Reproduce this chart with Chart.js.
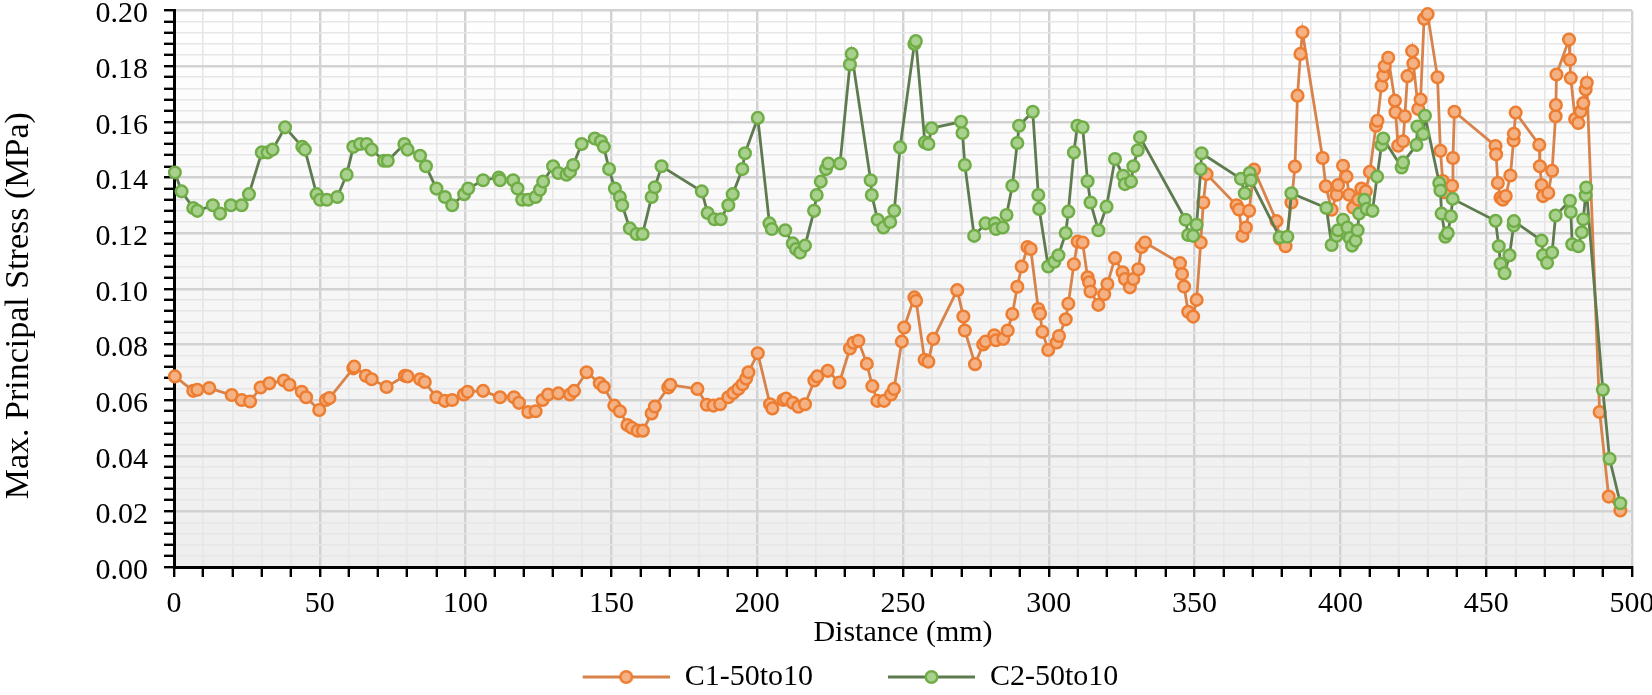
<!DOCTYPE html>
<html>
<head>
<meta charset="utf-8">
<title>Max. Principal Stress</title>
<script src="https://cdn.jsdelivr.net/npm/chart.js@4.4.1/dist/chart.umd.min.js"></script>
<style>
  html, body { margin: 0; padding: 0; background: #fff; }
  #wrap { width: 1652px; height: 695px; position: relative; }
</style>
</head>
<body>
<div id="wrap"><canvas id="stressChart"></canvas></div>
<script>
// ---- data ----
const seriesNames = ['C1-50to10', 'C2-50to10'];

const c1Distance = [
  0.3, 6.6, 8.0, 12.1, 19.8, 23.2, 26.1, 29.7, 32.7, 37.7,
  39.6, 43.8, 45.3, 49.8, 52.1, 53.3, 61.5, 61.8, 65.8, 67.8,
  72.9, 79.2, 80.1, 84.4, 86.0, 90.0, 92.9, 95.4, 99.4, 100.7,
  106.0, 111.8, 116.6, 118.3, 121.5, 124.0, 126.4, 128.3, 131.8, 135.8,
  137.2, 141.5, 146.0, 147.4, 151.0, 152.9, 155.5, 157.0, 159.0, 160.8,
  163.8, 164.9, 169.5, 170.2, 179.5, 182.7, 185.0, 187.3, 190.1, 191.8,
  193.5, 195.0, 196.2, 197.0, 200.2, 204.4, 205.2, 209.0, 209.9, 212.2,
  214.1, 216.4, 219.6, 220.6, 224.2, 228.2, 231.8, 233.0, 234.7, 237.6,
  239.5, 241.2, 243.5, 245.9, 246.9, 249.6, 250.4, 253.9, 254.5, 257.4,
  258.7, 260.4, 268.6, 270.7, 271.2, 274.7, 277.5, 278.3, 281.3, 281.9,
  284.4, 285.9, 287.5, 289.2, 290.7, 292.7, 293.8, 296.4, 297.0, 297.8,
  299.8, 302.7, 303.5, 305.8, 306.7, 308.6, 309.9, 311.6, 313.3, 313.8,
  314.3, 317.0, 319.0, 320.1, 322.7, 325.3, 326.1, 327.8, 329.0, 330.7,
  331.8, 333.0, 345.0, 345.7, 346.4, 347.8, 349.5, 350.7, 352.1, 353.0,
  354.1, 364.4, 365.2, 366.4, 367.6, 368.7, 370.4, 378.1, 379.2, 381.2,
  383.2, 384.4, 385.3, 386.3, 387.0, 393.9, 395.0, 397.0, 398.7, 399.2,
  400.9, 402.1, 403.0, 404.4, 406.1, 407.2, 408.7, 410.1, 412.2, 412.7,
  414.1, 414.7, 415.2, 416.4, 418.7, 418.9, 419.8, 421.5, 422.1, 423.0,
  424.6, 425.0, 426.7, 427.5, 428.7, 429.9, 433.3, 434.3, 435.1, 435.7,
  438.3, 438.6, 439.1, 453.2, 453.4, 454.0, 454.9, 455.7, 456.7, 458.3,
  459.4, 459.5, 460.1, 468.2, 468.4, 469.0, 469.5, 471.3, 472.6, 473.8,
  473.9, 474.1, 478.4, 478.7, 479.0, 480.5, 481.6, 482.4, 483.3, 484.1,
  484.5, 488.9, 492.0, 496.0
];
const c1Stress = [
  0.0685, 0.0633, 0.0637, 0.0643, 0.0618, 0.0600, 0.0595, 0.0645, 0.0660, 0.0670,
  0.0655, 0.0630, 0.0610, 0.0564, 0.0600, 0.0607, 0.0714, 0.0720, 0.0687, 0.0675,
  0.0647, 0.0687, 0.0685, 0.0675, 0.0665, 0.0610, 0.0597, 0.0600, 0.0620, 0.0630,
  0.0633, 0.0610, 0.0610, 0.0590, 0.0557, 0.0560, 0.0600, 0.0620, 0.0624, 0.0620,
  0.0633, 0.0700, 0.0660, 0.0647, 0.0580, 0.0560, 0.0510, 0.0500, 0.0490, 0.0490,
  0.0552, 0.0577, 0.0645, 0.0655, 0.0640, 0.0583, 0.0580, 0.0585, 0.0610, 0.0625,
  0.0640, 0.0657, 0.0677, 0.0700, 0.0768, 0.0585, 0.0570, 0.0600, 0.0605, 0.0590,
  0.0576, 0.0585, 0.0670, 0.0685, 0.0705, 0.0663, 0.0785, 0.0806, 0.0813, 0.0730,
  0.0650, 0.0597, 0.0597, 0.0620, 0.0640, 0.0810, 0.0861, 0.0969, 0.0957, 0.0745,
  0.0738, 0.0820, 0.0995, 0.0900, 0.0850, 0.0729, 0.0800, 0.0810, 0.0833, 0.0815,
  0.0820, 0.0850, 0.0909, 0.1007, 0.1080, 0.1150, 0.1143, 0.0927, 0.0910, 0.0845,
  0.0780, 0.0807, 0.0830, 0.0890, 0.0946, 0.1088, 0.1170, 0.1166, 0.1041, 0.1023,
  0.0990, 0.0942, 0.0980, 0.1017, 0.1110, 0.1059, 0.1035, 0.1005, 0.1035, 0.1070,
  0.1150, 0.1166, 0.1092, 0.1053, 0.1008, 0.0917, 0.0900, 0.0960, 0.1166, 0.1310,
  0.1412, 0.1300, 0.1285, 0.1190, 0.1220, 0.1280, 0.1428, 0.1243, 0.1180, 0.1153,
  0.1310, 0.1439, 0.1694, 0.1844, 0.1922, 0.1470, 0.1368, 0.1284, 0.1338, 0.1373,
  0.1442, 0.1403, 0.1338, 0.1292, 0.1320, 0.1360, 0.1350, 0.1420, 0.1586, 0.1604,
  0.1730, 0.1766, 0.1800, 0.1830, 0.1676, 0.1634, 0.1514, 0.1530, 0.1620, 0.1764,
  0.1854, 0.1810, 0.1646, 0.1680, 0.1970, 0.1987, 0.1760, 0.1496, 0.1387, 0.1347,
  0.1370, 0.1470, 0.1636, 0.1513, 0.1483, 0.1380, 0.1327, 0.1320, 0.1333, 0.1407,
  0.1533, 0.1557, 0.1633, 0.1517, 0.1440, 0.1373, 0.1333, 0.1344, 0.1424, 0.1620,
  0.1660, 0.1770, 0.1896, 0.1823, 0.1757, 0.1610, 0.1596, 0.1637, 0.1667, 0.1716,
  0.1740, 0.0557, 0.0253, 0.0203
];

const c2Distance = [
  0.3, 2.6, 6.6, 8.0, 13.3, 15.8, 19.5, 23.2, 25.7, 30.1,
  32.1, 33.8, 38.1, 44.0, 44.9, 48.9, 50.1, 52.4, 56.0, 59.2,
  61.5, 63.8, 66.1, 67.8, 72.0, 73.3, 79.0, 80.1, 84.4, 86.4,
  90.0, 92.9, 95.4, 99.5, 100.9, 106.0, 111.4, 111.8, 116.3, 117.8,
  119.4, 121.5, 124.0, 125.5, 126.6, 130.0, 131.8, 134.6, 135.8, 136.9,
  139.8, 144.3, 146.4, 147.4, 149.2, 151.2, 152.9, 153.7, 156.3, 158.6,
  160.7, 163.8, 164.9, 167.2, 181.0, 183.0, 185.3, 187.5, 190.1, 191.6,
  194.9, 195.8, 200.2, 204.2, 205.0, 209.6, 212.2, 213.3, 214.7, 216.4,
  219.5, 220.4, 221.8, 223.6, 224.4, 228.4, 231.8, 232.4, 238.9, 239.3,
  241.3, 243.3, 245.6, 247.0, 249.0, 253.9, 254.4, 257.5, 258.7, 259.8,
  269.9, 270.4, 271.2, 274.4, 278.3, 281.5, 281.9, 284.2, 285.5, 287.5,
  289.2, 289.8, 294.5, 296.4, 296.7, 299.8, 301.9, 303.3, 305.8, 306.7,
  308.6, 309.8, 311.6, 313.3, 314.3, 317.0, 319.8, 322.7, 325.5, 326.1,
  328.2, 329.0, 330.5, 331.3, 346.9, 347.8, 349.5, 350.7, 352.1, 352.4,
  365.9, 367.2, 368.9, 369.3, 379.2, 381.8, 383.2, 395.2, 397.0, 398.7,
  399.2, 400.9, 402.4, 403.2, 404.0, 405.2, 405.9, 406.4, 408.2, 409.0,
  411.0, 412.6, 414.1, 414.7, 421.0, 421.5, 426.1, 426.4, 428.4, 429.0,
  433.9, 434.3, 434.7, 436.0, 436.8, 437.9, 438.5, 453.2, 454.3, 454.9,
  456.3, 458.0, 459.4, 459.5, 469.0, 469.5, 470.9, 472.6, 473.8, 478.7,
  479.0, 479.5, 481.6, 482.8, 483.3, 484.1, 484.3, 490.0, 492.3, 496.0
];
const c2Stress = [
  0.1418, 0.1350, 0.1290, 0.1280, 0.1300, 0.1270, 0.1300, 0.1300, 0.1340, 0.1490,
  0.1490, 0.1500, 0.1580, 0.1510, 0.1500, 0.1340, 0.1320, 0.1320, 0.1330, 0.1410,
  0.1510, 0.1520, 0.1520, 0.1500, 0.1460, 0.1460, 0.1520, 0.1500, 0.1478, 0.1440,
  0.1360, 0.1330, 0.1300, 0.1340, 0.1360, 0.1390, 0.1400, 0.1390, 0.1390, 0.1360,
  0.1320, 0.1320, 0.1330, 0.1356, 0.1385, 0.1440, 0.1416, 0.1410, 0.1420, 0.1445,
  0.1520, 0.1540, 0.1530, 0.1510, 0.1430, 0.1360, 0.1330, 0.1300, 0.1217, 0.1197,
  0.1197, 0.1330, 0.1365, 0.1440, 0.1350, 0.1272, 0.1250, 0.1250, 0.1300, 0.1340,
  0.1430, 0.1487, 0.1614, 0.1235, 0.1215, 0.1210, 0.1163, 0.1143, 0.1130, 0.1155,
  0.1280, 0.1337, 0.1385, 0.1430, 0.1450, 0.1450, 0.1806, 0.1844, 0.1390, 0.1337,
  0.1248, 0.1220, 0.1240, 0.1280, 0.1508, 0.1880, 0.1890, 0.1526, 0.1520, 0.1577,
  0.1600, 0.1560, 0.1445, 0.1190, 0.1235, 0.1235, 0.1215, 0.1220, 0.1265, 0.1370,
  0.1524, 0.1586, 0.1636, 0.1337, 0.1287, 0.1080, 0.1097, 0.1120, 0.1200, 0.1277,
  0.1490, 0.1586, 0.1580, 0.1386, 0.1310, 0.1210, 0.1295, 0.1466, 0.1406, 0.1376,
  0.1385, 0.1440, 0.1498, 0.1544, 0.1248, 0.1193, 0.1190, 0.1230, 0.1430, 0.1487,
  0.1395, 0.1343, 0.1416, 0.1390, 0.1185, 0.1187, 0.1343, 0.1290, 0.1157, 0.1190,
  0.1210, 0.1248, 0.1220, 0.1182, 0.1155, 0.1173, 0.1210, 0.1270, 0.1320, 0.1287,
  0.1280, 0.1403, 0.1517, 0.1540, 0.1436, 0.1454, 0.1517, 0.1583, 0.1556, 0.1622,
  0.1380, 0.1353, 0.1270, 0.1187, 0.1200, 0.1260, 0.1323, 0.1244, 0.1153, 0.1090,
  0.1056, 0.1120, 0.1227, 0.1243, 0.1173, 0.1120, 0.1093, 0.1130, 0.1263, 0.1316,
  0.1276, 0.1160, 0.1153, 0.1203, 0.1250, 0.1336, 0.1364, 0.0637, 0.0389, 0.0229
];

// labelled ticks; the minor ticks in between stay unlabelled
const xTickLabels = [0, 50, 100, 150, 200, 250, 300, 350, 400, 450, 500];
const yTickLabels = [0, 0.02, 0.04, 0.06, 0.08, 0.10, 0.12, 0.14, 0.16, 0.18, 0.20];

// ---- styling ----
const orange = { line: '#D8834B', fill: '#F4B183', edge: '#ED7D31' };
const green  = { line: '#5E7B4F', fill: '#A9D18E', edge: '#70AD47' };

const isMajorX = v => xTickLabels.some(t => Math.abs(t - v) < 1e-6);
const isMajorY = v => yTickLabels.some(t => Math.abs(t - v) < 1e-6);

Chart.defaults.font.family = "'Liberation Serif', 'Times New Roman', serif";
Chart.defaults.color = '#000';

// line + marker sample used as the legend symbol
function legendSymbol(c) {
  const cv = document.createElement('canvas');
  cv.width = 148;
  cv.height = 20;
  const g = cv.getContext('2d');
  g.strokeStyle = c.line;
  g.lineWidth = 3;
  g.beginPath(); g.moveTo(61, 10); g.lineTo(148, 10); g.stroke();
  g.beginPath(); g.arc(104.5, 10, 5.8, 0, Math.PI * 2);
  g.fillStyle = c.fill; g.fill();
  g.lineWidth = 2.5; g.strokeStyle = c.edge; g.stroke();
  return cv;
}
const symbols = [legendSymbol(orange), legendSymbol(green)];

// soft white-to-grey fill behind the plot
const plotBackground = {
  id: 'plotBackground',
  beforeDraw(chart) {
    const { ctx, chartArea: a } = chart;
    const grad = ctx.createLinearGradient(0, a.top, 0, a.bottom);
    grad.addColorStop(0, '#ffffff');
    grad.addColorStop(1, '#eeeeee');
    ctx.save();
    ctx.fillStyle = grad;
    ctx.fillRect(a.left, a.top, a.right - a.left, a.bottom - a.top);
    ctx.restore();
  }
};

function makeSeries(name, xs, ys, c, order) {
  return {
    label: name,
    data: xs.map((x, i) => ({ x: x, y: ys[i] })),
    borderColor: c.line,
    borderWidth: 2.8,
    pointRadius: 5.8,
    pointBorderWidth: 2.5,
    pointBackgroundColor: c.fill,
    pointBorderColor: c.edge,
    tension: 0,
    fill: false,
    clip: false,
    order: order
  };
}

new Chart(document.getElementById('stressChart'), {
  type: 'line',
  data: {
    datasets: [
      makeSeries(seriesNames[0], c1Distance, c1Stress, orange, 1),
      makeSeries(seriesNames[1], c2Distance, c2Stress, green, 0)
    ]
  },
  plugins: [plotBackground],
  options: {
    responsive: true,
    maintainAspectRatio: false,
    animation: false,
    events: [],
    devicePixelRatio: 1,
    layout: { padding: { top: 0, left: 0, right: 12, bottom: -7 } },
    plugins: {
      tooltip: { enabled: false },
      legend: {
        position: 'bottom',
        labels: {
          usePointStyle: true,
          pointStyleWidth: 148,
          padding: 14,
          color: '#000',
          font: { size: 30 },
          generateLabels: () => seriesNames.map((n, i) => ({
            text: n,
            pointStyle: symbols[i],
            fillStyle: 'transparent',
            strokeStyle: 'transparent',
            lineWidth: 0,
            hidden: false,
            datasetIndex: i
          }))
        }
      }
    },
    scales: {
      x: {
        type: 'linear',
        min: 0,
        max: 500,
        ticks: {
          stepSize: 10,
          autoSkip: false,
          maxRotation: 0,
          padding: 12,
          font: { size: 30, lineHeight: 1 },
          callback: v => isMajorX(v) ? String(v) : ''
        },
        grid: {
          color: ctx => isMajorX(ctx.tick.value) ? '#d2d2d2' : '#e6e6e6',
          lineWidth: ctx => isMajorX(ctx.tick.value) ? 2.4 : 1.6,
          tickColor: '#000',
          tickWidth: 2.4,
          tickLength: 10
        },
        border: { color: '#000', width: 3 },
        title: {
          display: true,
          text: 'Distance (mm)',
          font: { size: 30, lineHeight: 1 },
          padding: { top: 0, bottom: 0 }
        },
        afterFit(scale) {
          scale.height = 81;
          scale.paddingLeft = 0;
          scale.paddingRight = 20;
        }
      },
      y: {
        min: 0,
        max: 0.2,
        ticks: {
          stepSize: 0.004,
          autoSkip: false,
          padding: 16,
          labelOffset: 4,
          font: { size: 30, lineHeight: 1 },
          callback: v => isMajorY(v) ? v.toFixed(2) : ''
        },
        grid: {
          color: ctx => isMajorY(ctx.tick.value) ? '#d2d2d2' : '#e6e6e6',
          lineWidth: ctx => isMajorY(ctx.tick.value) ? 2.4 : 1.6,
          tickColor: '#000',
          tickWidth: 2.4,
          tickLength: 10
        },
        border: { color: '#000', width: 3 },
        title: {
          display: true,
          text: 'Max. Principal Stress (MPa)    ',
          font: { size: 34, lineHeight: 1 },
          padding: { top: 2, bottom: 0 }
        },
        afterFit(scale) {
          scale.width = 174;
          scale.paddingTop = 10.5;
          scale.paddingBottom = 0;
        }
      }
    }
  }
});
</script>
</body>
</html>
